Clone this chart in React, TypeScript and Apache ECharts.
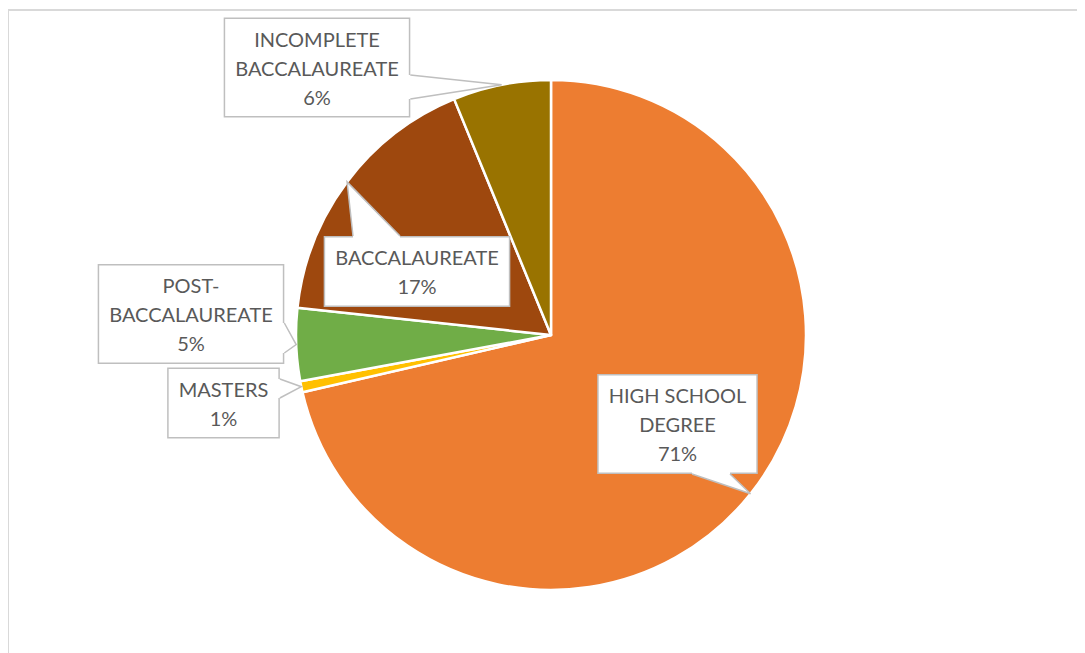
import React, { useEffect, useRef } from 'react';
import * as echarts from 'echarts';

// ---- data ----
const categories = [
  'HIGH SCHOOL DEGREE',
  'MASTERS',
  'POST-BACCALAUREATE',
  'BACCALAUREATE',
  'INCOMPLETE BACCALAUREATE',
];
const shares = [71.4, 0.7, 4.6, 17.1, 6.2];
const colors = ['#ED7D31', '#FFC000', '#70AD47', '#9E480E', '#997300'];

// ---- layout of the callouts (chart pixel space) ----
type Side = 'top' | 'bottom' | 'right' | 'left';
const CALLOUTS: { cx: number; cy: number; side: Side; along: [number, number]; w: number; h: number }[] = [
  { cx: 669.5, cy: 416, side: 'bottom', along: [684, 722], w: 155, h: 98 },
  { cx: 215.5, cy: 395, side: 'right', along: [371, 390], w: 111, h: 68 },
  { cx: 183, cy: 306, side: 'right', along: [315, 345], w: 186, h: 96 },
  { cx: 409, cy: 263.5, side: 'top', along: [345, 392], w: 186, h: 67 },
  { cx: 309, cy: 59.5, side: 'right', along: [67, 91], w: 186, h: 97 },
];

const wrapName = (s: string) =>
  s
    .replace('INCOMPLETE ', 'INCOMPLETE\n')
    .replace('POST-', 'POST-\n')
    .replace('SCHOOL ', 'SCHOOL\n');

export default function App() {
  const ref = useRef<HTMLDivElement>(null);

  useEffect(() => {
    document.body.style.overflow = 'hidden';
    document.documentElement.style.overflow = 'hidden';
    const chart = echarts.init(ref.current!, undefined, { renderer: 'svg' });
    const rects: any[] = [];

    const frame = {
      type: 'rect',
      silent: true,
      z: -10,
      shape: { x: 0, y: 2, width: 3000, height: 3000 },
      style: { fill: 'none', stroke: '#D9D9D9', lineWidth: 2 },
    };

    chart.setOption({
      animation: false,
      graphic: [frame],
      series: [
        {
          type: 'pie',
          center: [543, 327],
          radius: 255,
          startAngle: 90,
          clockwise: true,
          avoidLabelOverlap: false,
          percentPrecision: 0,
          emphasis: { disabled: true },
          itemStyle: { borderColor: '#ffffff', borderWidth: 2.5 },
          data: categories.map((name, i) => ({
            name,
            value: shares[i],
            itemStyle: { color: colors[i] },
          })),
          label: {
            show: true,
            position: 'outside',
            formatter: (p: any) => wrapName(p.name) + '\n' + p.percent + '%',
            color: '#595959',
            fontFamily: 'Lato',
            fontSize: 20,
            lineHeight: 29,
            align: 'center',
            backgroundColor: '#ffffff',
            borderColor: '#BFBFBF',
            borderWidth: 1.5,
            padding: [5, 10],
          },
          labelLine: { show: false },
          labelLayout: (p: any) => {
            const c = CALLOUTS[p.dataIndex];
            rects[p.dataIndex] = p.labelRect;
            return { x: c.cx, y: c.cy, align: 'center', verticalAlign: 'middle' };
          },
        },
      ],
    });

    // callout pointers, tips at the middle of each slice's outer arc
    const total = shares.reduce((a, b) => a + b, 0);
    let layouts: any[] = [];
    try {
      const data = (chart as any).getModel().getSeriesByIndex(0).getData();
      layouts = categories.map((_, i) => data.getItemLayout(i));
    } catch (e) {
      layouts = [];
    }
    let acc = 0;
    const elements: any[] = [frame];
    CALLOUTS.forEach((c, i) => {
      let tip: number[];
      const lay = layouts[i];
      if (lay && lay.r) {
        const mid = (lay.startAngle + lay.endAngle) / 2;
        tip = [lay.cx + lay.r * Math.cos(mid), lay.cy + lay.r * Math.sin(mid)];
      } else {
        const mid = -Math.PI / 2 + ((acc + shares[i] / 2) / total) * Math.PI * 2;
        tip = [543 + 255 * Math.cos(mid), 327 + 255 * Math.sin(mid)];
      }
      acc += shares[i];
      const r = rects[i];
      const w = r && r.width ? r.width : c.w;
      const h = r && r.height ? r.height : c.h;
      const left = c.cx - w / 2;
      const right = c.cx + w / 2;
      const top = c.cy - h / 2;
      const bottom = c.cy + h / 2;
      let p1: number[], p2: number[], q1: number[], q2: number[];
      const [a0, a1] = c.along;
      if (c.side === 'bottom') {
        p1 = [a0, bottom]; p2 = [a1, bottom]; q1 = [a0, bottom - 2.5]; q2 = [a1, bottom - 2.5];
      } else if (c.side === 'top') {
        p1 = [a0, top]; p2 = [a1, top]; q1 = [a0, top + 2.5]; q2 = [a1, top + 2.5];
      } else if (c.side === 'right') {
        p1 = [right, a0]; p2 = [right, a1]; q1 = [right - 2.5, a0]; q2 = [right - 2.5, a1];
      } else {
        p1 = [left, a0]; p2 = [left, a1]; q1 = [left + 2.5, a0]; q2 = [left + 2.5, a1];
      }
      elements.push({
        type: 'polygon',
        silent: true,
        z: 100,
        shape: { points: [q1, p1, tip, p2, q2] },
        style: { fill: '#ffffff', stroke: 'none' },
      });
      elements.push({
        type: 'polyline',
        silent: true,
        z: 101,
        shape: { points: [p1, tip, p2] },
        style: { fill: 'none', stroke: '#BFBFBF', lineWidth: 1.5 },
      });
    });
    chart.setOption({ graphic: elements }, { replaceMerge: ['graphic'] });

    return () => chart.dispose();
  }, []);

  return <div ref={ref} style={{ width: 1077, height: 645 }} />;
}
